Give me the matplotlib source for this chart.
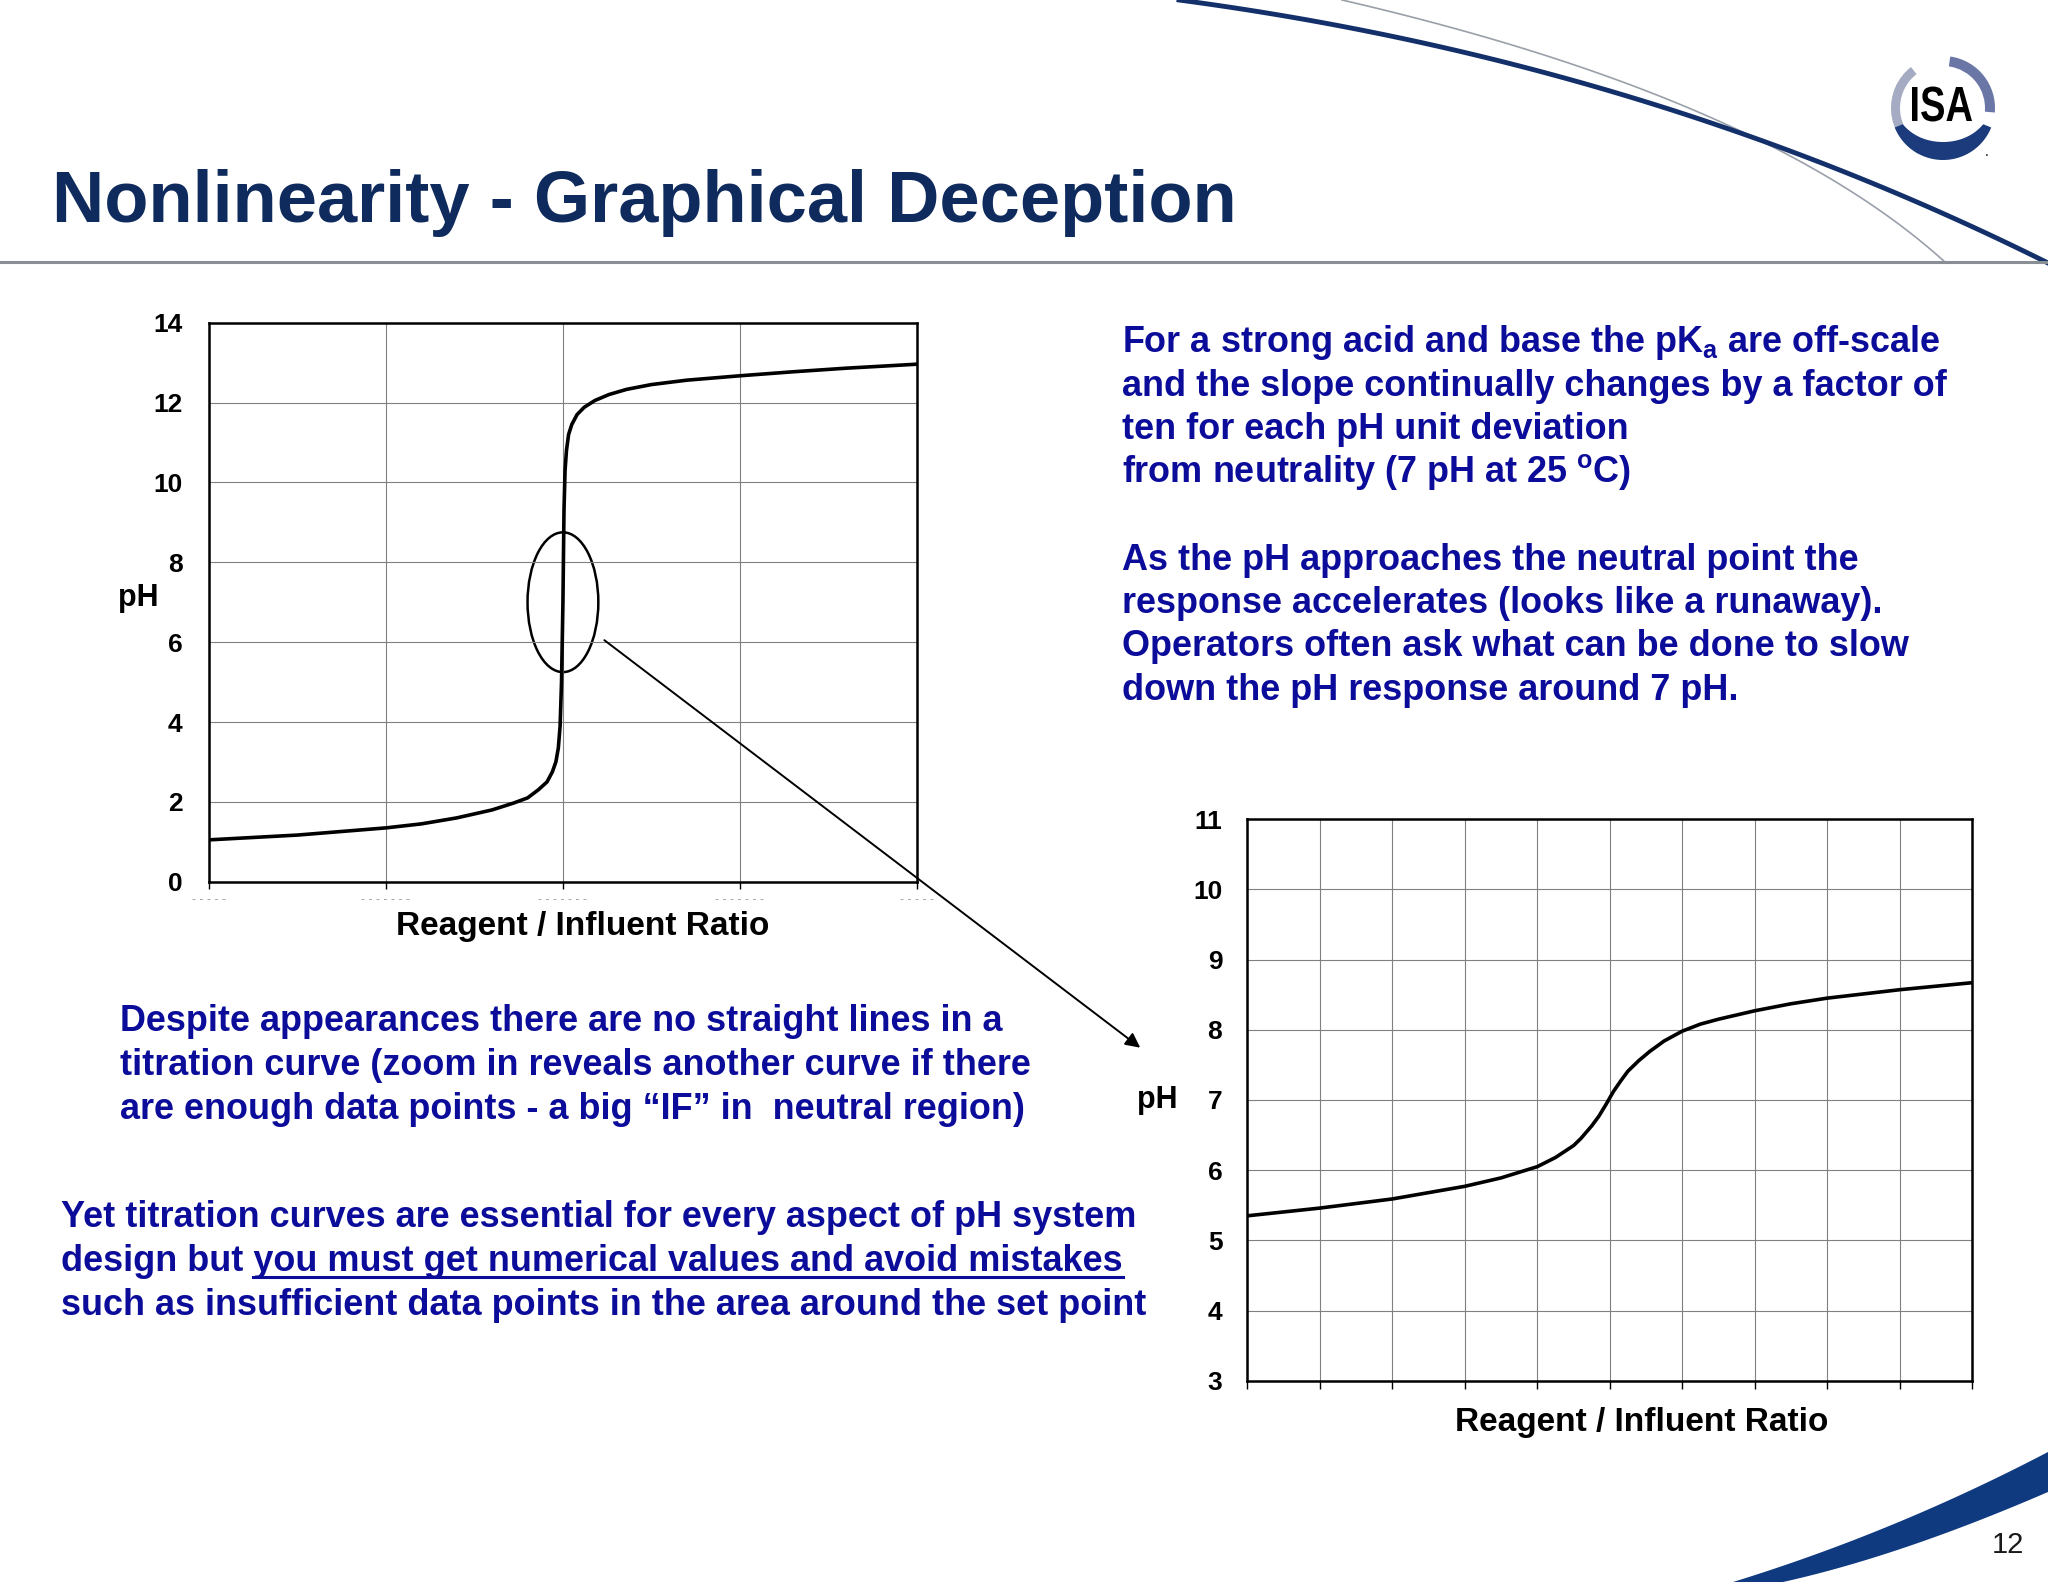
import matplotlib
matplotlib.use("Agg")
import matplotlib.pyplot as plt
import numpy as np
from matplotlib.patches import Ellipse, Wedge, Polygon, PathPatch, ConnectionPatch
from matplotlib.textpath import TextPath
from matplotlib.font_manager import FontProperties
from matplotlib.transforms import Affine2D

plt.rcParams['font.family'] = ['Liberation Sans', 'DejaVu Sans']
plt.rcParams['mathtext.fontset'] = 'custom'
plt.rcParams['mathtext.rm'] = 'Liberation Sans:bold'
plt.rcParams['mathtext.it'] = 'Liberation Sans:bold'
plt.rcParams['mathtext.bf'] = 'Liberation Sans:bold'

# data
left_ratio = [0.0, 0.25, 0.5, 0.6, 0.7, 0.8, 0.86, 0.9, 0.93, 0.955, 0.97, 0.98,
              0.987, 0.992, 0.996, 1.0, 1.003, 1.006, 1.01, 1.016, 1.025, 1.04,
              1.06, 1.09, 1.13, 1.18, 1.25, 1.35, 1.5, 1.65, 1.8, 2.0]
left_ph = [1.05, 1.17, 1.35, 1.45, 1.6, 1.8, 1.97, 2.1, 2.3, 2.5, 2.75, 3.0,
           3.35, 3.9, 5.0, 7.0, 9.3, 10.3, 10.8, 11.2, 11.45, 11.7,
           11.88, 12.05, 12.2, 12.33, 12.45, 12.56, 12.67, 12.77, 12.86, 12.96]
left_xticks = [0, 0.5, 1.0, 1.5, 2.0]
left_xticklabels = ['- - - - -', '- - - - - - -', '- - - - - - -', '- - - - - - -', '- - - - -']
left_yticks = [0, 2, 4, 6, 8, 10, 12, 14]

right_ratio = [0, 1, 2, 3, 3.5, 3.75, 4, 4.25, 4.5, 4.6, 4.75, 4.85, 4.95, 5.05,
               5.15, 5.25, 5.4, 5.55, 5.75, 6, 6.25, 6.5, 7, 7.5, 8, 9, 10]
right_ph = [5.35, 5.46, 5.59, 5.77, 5.89, 5.97, 6.05, 6.18, 6.35, 6.45, 6.63, 6.77,
            6.94, 7.12, 7.27, 7.41, 7.56, 7.69, 7.84, 7.98, 8.08, 8.15, 8.27, 8.37,
            8.45, 8.57, 8.67]
right_xticks = list(range(0, 11))
right_yticks = list(range(3, 12))

title = "Nonlinearity - Graphical Deception"
right_text = ["For a strong acid and base the pK$_a$ are off-scale",
              "and the slope continually changes by a factor of",
              "ten for each pH unit deviation",
              "from neutrality (7 pH at 25 $^{o}$C)",
              "",
              "As the pH approaches the neutral point the",
              "response accelerates (looks like a runaway).",
              "Operators often ask what can be done to slow",
              "down the pH response around 7 pH."]
left_text = ["Despite appearances there are no straight lines in a",
             "titration curve (zoom in reveals another curve if there",
             "are enough data points - a big \u201cIF\u201d in  neutral region)"]
bottom_text = ["Yet titration curves are essential for every aspect of pH system",
               "design but you must get numerical values and avoid mistakes",
               "such as insufficient data points in the area around the set point"]
underlined = "you must get numerical values and avoid mistakes"

W, H = 2048, 1582
BLUE = '#0c0c9a'
NAVY = '#0f2a5c'
TXT = 25.9

fig = plt.figure(figsize=(W / 100, H / 100), dpi=100)
fig.patch.set_facecolor('white')

# overlay in pixel coordinates for the slide decoration and text
deco = fig.add_axes([0, 0, 1, 1], zorder=0)
deco.set_xlim(0, W)
deco.set_ylim(H, 0)
deco.axis('off')


def bezier(p0, c, p1, n=100):
    t = np.linspace(0, 1, n)[:, None]
    return (1 - t) ** 2 * np.array(p0) + 2 * (1 - t) * t * np.array(c) + t ** 2 * np.array(p1)


thick = bezier((1179, 0), (1645, 62), (2048, 263))
thin = bezier((1342, 0), (1765, 98), (1946, 263))
deco.plot(thin[:, 0], thin[:, 1], color='#9aa0aa', lw=1.2)
deco.plot(thick[:, 0], thick[:, 1], color='#13306a', lw=3.5)
deco.plot([0, W], [262, 262], color='#8a8f96', lw=2.2)

# bottom-right swoosh
upper = bezier((1733, 1582), (1895, 1532), (2048, 1452))
lower = bezier((2048, 1492), (1900, 1556), (1783, 1582))
deco.add_patch(Polygon(np.vstack([upper, lower]), closed=True, fc='#0f3a80', ec='none'))
deco.text(2008, 1545, "12", fontsize=21, color='#1a1a1a', ha='center', va='center')

# ISA logo
cx, cy, r = 1943, 108, 52
deco.add_patch(Wedge((cx, cy), r, 118, 232, width=9, fc='#a4abc2', ec='none'))
deco.add_patch(Wedge((cx, cy), r, -82, 5, width=10, fc='#6a77a6', ec='none'))
ang = np.radians(np.linspace(22, 158, 60))
outer = np.column_stack([cx + r * np.cos(ang), cy + r * np.sin(ang)])
inner_r = r - 3 - 15 * np.sin(ang[::-1])
inner = np.column_stack([cx + inner_r * np.cos(ang[::-1]), cy + inner_r * np.sin(ang[::-1])])
deco.add_patch(Polygon(np.vstack([outer, inner]), closed=True, fc='#1b3b7c', ec='none'))
tp = TextPath((0, 0), "ISA", size=40, prop=FontProperties(family='Liberation Sans', weight='bold'))
ext = tp.get_extents()
sx, sy = 60 / ext.width, 35 / ext.height
tr = (Affine2D().translate(-ext.x0 - ext.width / 2, -ext.y0 - ext.height / 2)
      .scale(sx, -sy).translate(cx - 1, cy - 4))
deco.add_patch(PathPatch(tr.transform_path(tp), fc='black', ec='none'))
deco.text(cx + 44, cy + 44, ".", fontsize=10, color='black', ha='center', va='center')

# title
deco.text(52, 222, title, fontsize=52, fontweight='bold', color=NAVY, va='baseline')

# text blocks
for i, line in enumerate(right_text):
    if line:
        deco.text(1122, 352 + i * 43.5, line, fontsize=TXT, fontweight='bold',
                  color=BLUE, va='baseline')
for i, line in enumerate(left_text):
    deco.text(120, 1031 + i * 44, line, fontsize=TXT, fontweight='bold',
              color=BLUE, va='baseline')
bottom_artists = []
for i, line in enumerate(bottom_text):
    t = deco.text(61, 1227 + i * 44, line, fontsize=TXT, fontweight='bold',
                  color=BLUE, va='baseline')
    bottom_artists.append(t)

# underline the key phrase (measured from the rendered text)
renderer = fig.canvas.get_renderer()
line_box = bottom_artists[1].get_window_extent(renderer)
probe = deco.text(0, 0, underlined, fontsize=TXT, fontweight='bold')
u_box = probe.get_window_extent(renderer)
probe.remove()
inv = deco.transData.inverted()
x_end = inv.transform((line_box.x1, 0))[0]
x_start = inv.transform((line_box.x1 - u_box.width, 0))[0]
deco.plot([x_start, x_end], [1227 + 44 + 6, 1227 + 44 + 6], color=BLUE, lw=2.2)

# left chart
ax1 = fig.add_axes([0.10204, 0.44261, 0.34566, 0.35343], zorder=2)
ax1.plot(left_ratio, left_ph, color='black', lw=2.6, solid_joinstyle='round')
ax1.set_xlim(0, 2)
ax1.set_ylim(0, 14)
ax1.set_xticks(left_xticks)
ax1.set_xticklabels(left_xticklabels, color='#9a9a9a', fontsize=9)
ax1.set_yticks(left_yticks)
ax1.grid(True, color='#808080', lw=0.8)
ax1.tick_params(axis='y', length=0, pad=19, labelsize=19)
ax1.tick_params(axis='x', length=5, width=1, direction='out', pad=4)
for lab in ax1.get_yticklabels():
    lab.set_fontweight('bold')
for s in ax1.spines.values():
    s.set_linewidth(1.8)
ax1.set_ylabel("pH", rotation=0, fontsize=22, fontweight='bold', va='center')
ax1.yaxis.set_label_coords(-0.1, 0.507)
ax1.set_xlabel("Reagent / Influent Ratio", fontsize=24, fontweight='bold')
ax1.xaxis.set_label_coords(0.528, -0.052)
ax1.add_patch(Ellipse((1.0, 7.0), width=0.2, height=3.5, fill=False, ec='black', lw=1.8))

# right chart (zoomed)
ax2 = fig.add_axes([0.60906, 0.12717, 0.35395, 0.35508], zorder=2)
ax2.plot(right_ratio, right_ph, color='black', lw=2.6, solid_joinstyle='round')
ax2.set_xlim(0, 10)
ax2.set_ylim(3, 11)
ax2.set_xticks(right_xticks)
ax2.set_xticklabels([])
ax2.set_yticks(right_yticks)
ax2.grid(True, color='#808080', lw=0.8)
ax2.tick_params(axis='y', length=0, pad=18, labelsize=19)
ax2.tick_params(axis='x', length=6, width=1, direction='out')
for lab in ax2.get_yticklabels():
    lab.set_fontweight('bold')
for s in ax2.spines.values():
    s.set_linewidth(1.8)
ax2.set_ylabel("pH", rotation=0, fontsize=22, fontweight='bold', va='center')
ax2.yaxis.set_label_coords(-0.124, 0.5)
ax2.set_xlabel("Reagent / Influent Ratio", fontsize=24, fontweight='bold')
ax2.xaxis.set_label_coords(0.544, -0.047)

# zoom arrow from the circled region to the second chart
arrow = ConnectionPatch(xyA=(1.117, 6.05), coordsA=ax1.transData,
                        xyB=(873 / 1568, 1 - 802 / 1211), coordsB='figure fraction',
                        arrowstyle='-|>', color='black', lw=1.4, mutation_scale=22, zorder=5)
fig.add_artist(arrow)

fig.savefig("out.png", dpi=100)
